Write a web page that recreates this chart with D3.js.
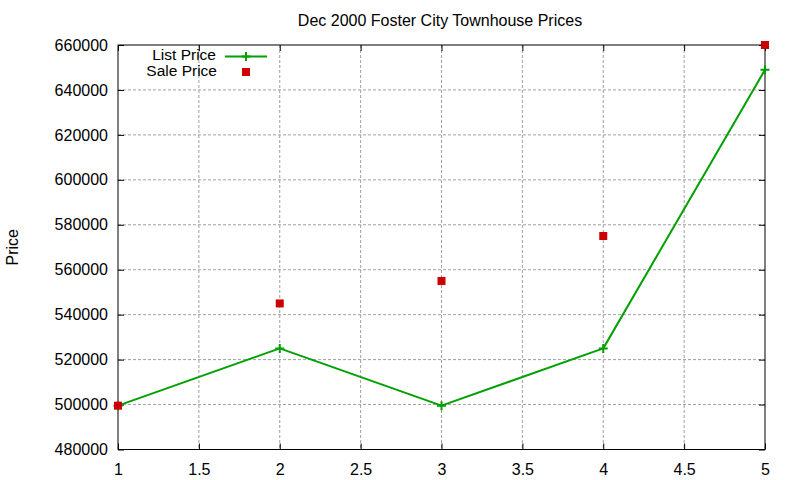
<!DOCTYPE html>
<html>
<head>
<meta charset="utf-8">
<script src="https://cdn.jsdelivr.net/npm/d3@7"></script>
<style>
  body { margin: 0; background: #fff; }
  svg { display: block; font-family: "Liberation Sans", Arial, sans-serif; }
</style>
</head>
<body>
<svg id="chart" width="800" height="480"></svg>
<script>
const xs = [1, 2, 3, 4, 5];
const listPrice = [499500, 525000, 499500, 525000, 649000];
const salePrice = [499500, 545000, 555000, 575000, 660000];
const xTicks = [1, 1.5, 2, 2.5, 3, 3.5, 4, 4.5, 5];
const yTicks = [480000, 500000, 520000, 540000, 560000, 580000, 600000, 620000, 640000, 660000];
const title = "Dec 2000 Foster City Townhouse Prices";
const yAxisLabel = "Price";

const width = 800;
const height = 480;
const margin = { left: 118, top: 45, right: 35, bottom: 30.5 };
const chartWidth = width - margin.left - margin.right;
const chartHeight = height - margin.top - margin.bottom;

const green = "#00a000";
const red = "#cc0000";

const svg = d3.select("#chart");

const x = d3.scaleLinear().domain([1, 5]).range([0, chartWidth]);
const y = d3.scaleLinear().domain([480000, 660000]).range([chartHeight, 0]);

const g = svg.append("g")
  .attr("transform", `translate(${margin.left},${margin.top})`);

// grid
g.append("g")
  .selectAll("line")
  .data(xTicks.slice(1, -1))
  .join("line")
  .attr("x1", d => x(d)).attr("x2", d => x(d))
  .attr("y1", 0).attr("y2", chartHeight)
  .attr("stroke", "#a0a0a0")
  .attr("stroke-dasharray", "3,2");

g.append("g")
  .selectAll("line")
  .data(yTicks.slice(1, -1))
  .join("line")
  .attr("y1", d => y(d)).attr("y2", d => y(d))
  .attr("x1", 0).attr("x2", chartWidth)
  .attr("stroke", "#a0a0a0")
  .attr("stroke-dasharray", "3,2");

// axes, ticks pointing inward, mirrored on top/right
const tick = 6;
const yAxis = d3.axisLeft(y).tickValues(yTicks).tickFormat(d3.format("d"))
  .tickSizeInner(-tick).tickSizeOuter(0).tickPadding(10);
const xAxis = d3.axisBottom(x).tickValues(xTicks).tickFormat(d => d)
  .tickSizeInner(-tick).tickSizeOuter(0).tickPadding(10);

const yAxisG = g.append("g").call(yAxis);
const xAxisG = g.append("g").attr("transform", `translate(0,${chartHeight})`).call(xAxis);

g.append("g").attr("transform", `translate(${chartWidth},0)`)
  .call(d3.axisRight(y).tickValues(yTicks).tickSizeInner(-tick).tickSizeOuter(0).tickFormat(""));
g.append("g")
  .call(d3.axisTop(x).tickValues(xTicks).tickSizeInner(-tick).tickSizeOuter(0).tickFormat(""));

g.selectAll(".domain").remove();
g.selectAll(".tick line").attr("stroke", "#000");
[yAxisG, xAxisG].forEach(a => a.selectAll("text")
  .attr("font-size", 16).attr("fill", "#000")
  .attr("font-family", "Liberation Sans, Arial, sans-serif"));
xAxisG.selectAll("text").attr("dy", "0.95em");

// border
g.append("rect")
  .attr("width", chartWidth).attr("height", chartHeight)
  .attr("fill", "none").attr("stroke", "#000");

// list price line
const line = d3.line()
  .x((d, i) => x(xs[i]))
  .y(d => y(d));

g.append("path")
  .attr("d", line(listPrice))
  .attr("fill", "none")
  .attr("stroke", green)
  .attr("stroke-width", 2)
  .attr("stroke-linejoin", "round");

const plusPath = (cx, cy, r) => `M${cx - r},${cy}H${cx + r}M${cx},${cy - r}V${cy + r}`;

g.append("g")
  .selectAll("path")
  .data(listPrice)
  .join("path")
  .attr("d", (d, i) => plusPath(x(xs[i]), y(d), 4.5))
  .attr("stroke", green)
  .attr("stroke-width", 2);

// sale price points
g.append("g")
  .selectAll("rect")
  .data(salePrice)
  .join("rect")
  .attr("x", (d, i) => x(xs[i]) - 4)
  .attr("y", d => y(d) - 4)
  .attr("width", 8).attr("height", 8)
  .attr("fill", red);

// legend
const legend = svg.append("g");
legend.append("text")
  .attr("x", 216).attr("y", 60)
  .attr("text-anchor", "end").attr("font-size", 15.5)
  .text("List Price");
legend.append("line")
  .attr("x1", 225).attr("x2", 267).attr("y1", 56.5).attr("y2", 56.5)
  .attr("stroke", green).attr("stroke-width", 2);
legend.append("path")
  .attr("d", plusPath(246, 56.5, 4.5))
  .attr("stroke", green).attr("stroke-width", 2);
legend.append("text")
  .attr("x", 217).attr("y", 76)
  .attr("text-anchor", "end").attr("font-size", 15.5)
  .text("Sale Price");
legend.append("rect")
  .attr("x", 242).attr("y", 68).attr("width", 8).attr("height", 8)
  .attr("fill", red);

// title
svg.append("text")
  .attr("x", 440).attr("y", 26)
  .attr("text-anchor", "middle").attr("font-size", 16)
  .text(title);

// y axis label
svg.append("text")
  .attr("transform", `translate(18,${margin.top + chartHeight / 2}) rotate(-90)`)
  .attr("text-anchor", "middle").attr("font-size", 16)
  .text(yAxisLabel);
</script>
</body>
</html>
